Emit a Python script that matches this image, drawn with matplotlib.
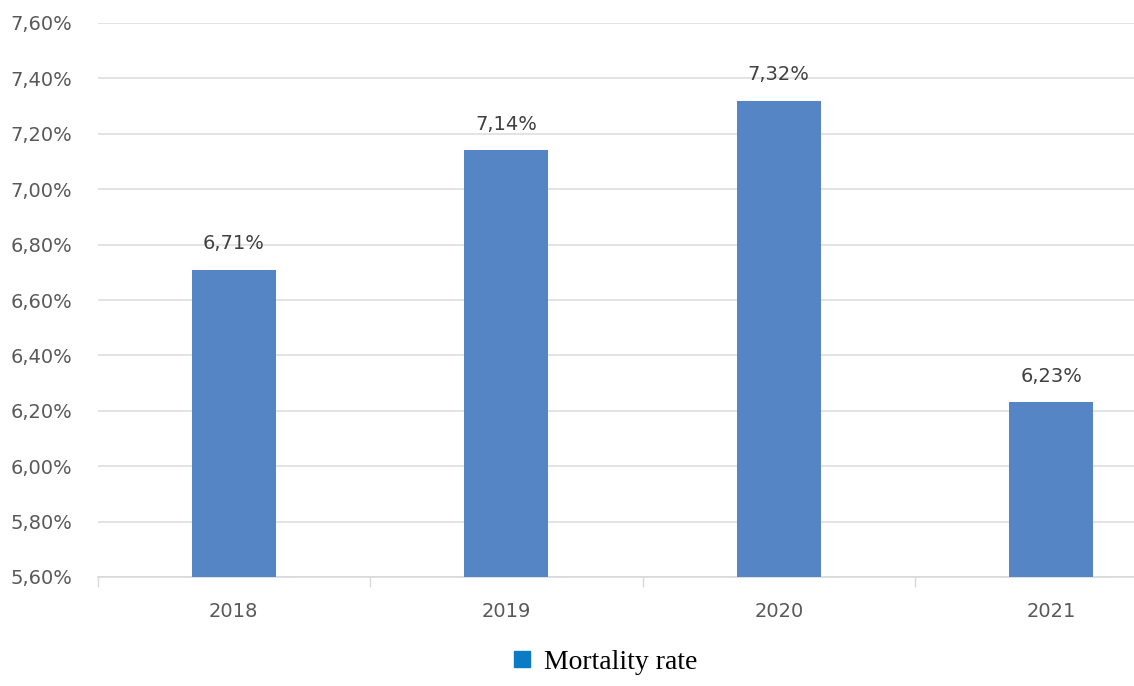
import matplotlib
matplotlib.use("Agg")
import matplotlib.pyplot as plt
from matplotlib.lines import Line2D
import numpy as np

years = ["2018", "2019", "2020", "2021"]
mortality = [6.71, 7.14, 7.32, 6.23]
yticks = [5.6, 5.8, 6.0, 6.2, 6.4, 6.6, 6.8, 7.0, 7.2, 7.4, 7.6]

W, H = 1134, 686
fig = plt.figure(figsize=(W / 100, H / 100), dpi=100)
# axes: left ~97px, bottom 577px, top 23px, category width ~272.5px (right edge cropped)
left, right, top, bottom = 97.5, 97.5 + 4 * 272.5, 23, 577
ax = fig.add_axes([left / W, 1 - bottom / H, (right - left) / W, (bottom - top) / H])

x = np.arange(len(years))
ax.bar(x, [m - 5.6 for m in mortality], bottom=5.6, width=0.31,
       color="#5585C5", zorder=3)
ax.set_xlim(-0.5, len(years) - 0.5)
ax.set_ylim(5.6, 7.6)

for xi, m in zip(x, mortality):
    ax.text(xi, m + 0.06, f"{m:.2f}%".replace(".", ","), ha="center", va="bottom",
            fontsize=14, color="#404040")

ax.set_yticks(yticks)
ax.set_yticklabels([f"{t:.2f}%".replace(".", ",") for t in yticks])
ax.set_xticks(x)
ax.set_xticklabels(years)
ax.set_xticks(np.arange(len(years) + 1) - 0.5, minor=True)
ax.tick_params(axis="y", length=0, pad=18, labelsize=14, labelcolor="#595959")
ax.tick_params(axis="x", which="major", length=0, pad=18, labelsize=14, labelcolor="#595959")
ax.tick_params(axis="x", which="minor", length=7, width=1, color="#D9D9D9", direction="out")
ax.grid(axis="y", color="#DEDEDE", linewidth=1.2, zorder=0)
for s in ["top", "right", "left"]:
    ax.spines[s].set_visible(False)
ax.spines["bottom"].set_color("#D9D9D9")
ax.spines["bottom"].set_linewidth(1.2)

handle = Line2D([], [], marker="s", linestyle="none", markersize=11,
                markerfacecolor="#0A7BC4", markeredgecolor="#0A7BC4")
fig.legend([handle], ["Mortality rate"], loc="center", bbox_to_anchor=(601 / W, 1 - 662 / H),
           frameon=False, handletextpad=0.2, handlelength=1.2,
           prop={"family": "Liberation Serif", "size": 20})

fig.savefig("out.png", dpi=100)
